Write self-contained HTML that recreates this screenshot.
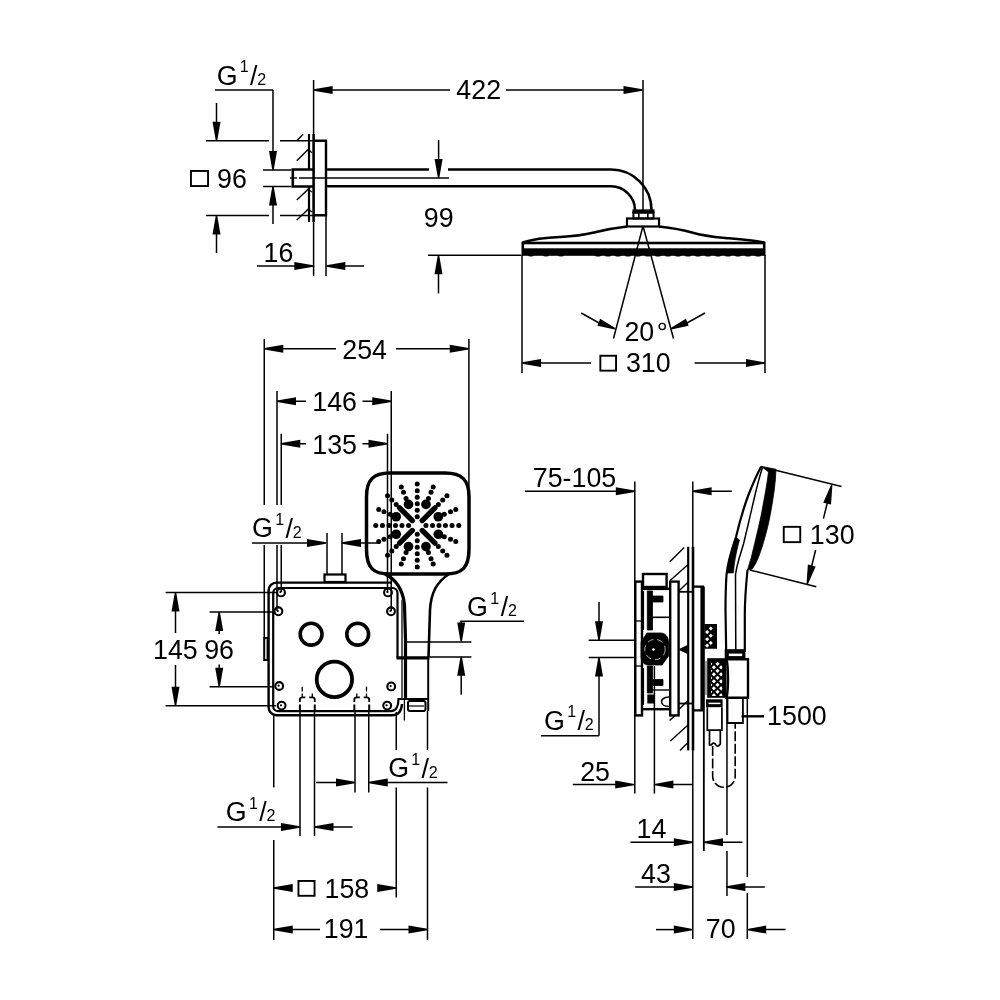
<!DOCTYPE html>
<html><head><meta charset="utf-8"><style>
html,body{margin:0;padding:0;background:#fff;width:1000px;height:1000px;overflow:hidden}
svg{display:block}
text{font-family:"Liberation Sans",sans-serif;fill:#000}
</style></head><body>
<svg width="1000" height="1000" viewBox="0 0 1000 1000">
<rect width="1000" height="1000" fill="#fff"/>
<g stroke="#000" fill="none" stroke-linecap="butt">
<line x1="309.00" y1="134.00" x2="309.00" y2="169.00" stroke-width="2.2" />
<line x1="309.00" y1="187.00" x2="309.00" y2="222.00" stroke-width="2.2" />
<line x1="313.60" y1="134.00" x2="313.60" y2="222.00" stroke-width="2.5" />
<line x1="313.60" y1="80.00" x2="313.60" y2="276.00" stroke-width="1.5" />
<line x1="296.80" y1="140.80" x2="303.10" y2="134.20" stroke-width="1.4" />
<line x1="296.80" y1="160.70" x2="308.40" y2="149.20" stroke-width="1.4" />
<line x1="296.80" y1="200.10" x2="308.40" y2="189.10" stroke-width="1.4" />
<line x1="296.80" y1="220.00" x2="308.40" y2="209.00" stroke-width="1.4" />
<line x1="308.40" y1="149.20" x2="312.00" y2="152.80" stroke-width="1.2" />
<line x1="308.40" y1="189.10" x2="312.00" y2="192.10" stroke-width="1.2" />
<line x1="308.40" y1="209.00" x2="312.00" y2="212.00" stroke-width="1.2" />
<path d="M313.60,140.80 L326.00,140.80 L326.00,215.30 L313.60,215.30" stroke-width="2.4" fill="none" />
<path d="M313.60,169.50 L292.80,169.50 L292.80,186.50 L313.60,186.50" stroke-width="2.6" fill="none" />
<line x1="290.00" y1="178.00" x2="297.00" y2="178.00" stroke-width="1.4" />
<line x1="299.00" y1="178.00" x2="449.00" y2="178.00" stroke-width="1.4" />
<line x1="206.00" y1="140.80" x2="269.00" y2="140.80" stroke-width="1.5" />
<line x1="280.00" y1="140.80" x2="313.00" y2="140.80" stroke-width="1.5" />
<line x1="206.00" y1="215.50" x2="269.00" y2="215.50" stroke-width="1.5" />
<line x1="280.00" y1="215.50" x2="313.00" y2="215.50" stroke-width="1.5" />
<line x1="216.50" y1="103.00" x2="216.50" y2="135.00" stroke-width="1.5" />
<path d="M215.80,140.80 L212.50,121.80 L220.50,121.80 L217.20,140.80 Z" fill="#000" stroke="none"/>
<line x1="216.50" y1="221.00" x2="216.50" y2="253.00" stroke-width="1.5" />
<path d="M217.20,215.50 L220.50,234.50 L212.50,234.50 L215.80,215.50 Z" fill="#000" stroke="none"/>
<rect x="190.95" y="170.95" width="17.10" height="15.10" rx="0" stroke-width="1.9" fill="none" />
<line x1="215.00" y1="90.00" x2="273.00" y2="90.00" stroke-width="1.5" />
<line x1="273.00" y1="90.00" x2="273.00" y2="165.00" stroke-width="1.5" />
<path d="M272.30,170.00 L269.00,151.00 L277.00,151.00 L273.70,170.00 Z" fill="#000" stroke="none"/>
<line x1="273.00" y1="192.00" x2="273.00" y2="224.00" stroke-width="1.5" />
<path d="M273.70,186.50 L277.00,205.50 L269.00,205.50 L272.30,186.50 Z" fill="#000" stroke="none"/>
<line x1="263.00" y1="170.00" x2="291.60" y2="170.00" stroke-width="1.5" />
<line x1="263.00" y1="186.50" x2="291.60" y2="186.50" stroke-width="1.5" />
<line x1="326.00" y1="215.00" x2="326.00" y2="276.00" stroke-width="1.5" />
<line x1="257.00" y1="266.00" x2="300.00" y2="266.00" stroke-width="1.5" />
<path d="M313.30,266.70 L294.30,270.00 L294.30,262.00 L313.30,265.30 Z" fill="#000" stroke="none"/>
<line x1="340.00" y1="266.00" x2="364.00" y2="266.00" stroke-width="1.5" />
<path d="M326.30,265.30 L345.30,262.00 L345.30,270.00 L326.30,266.70 Z" fill="#000" stroke="none"/>
<line x1="320.00" y1="90.00" x2="450.00" y2="90.00" stroke-width="1.5" />
<path d="M313.60,89.30 L332.60,86.00 L332.60,94.00 L313.60,90.70 Z" fill="#000" stroke="none"/>
<line x1="506.00" y1="90.00" x2="636.00" y2="90.00" stroke-width="1.5" />
<path d="M642.50,90.70 L623.50,94.00 L623.50,86.00 L642.50,89.30 Z" fill="#000" stroke="none"/>
<line x1="643.00" y1="80.00" x2="643.00" y2="210.00" stroke-width="1.5" />
<path d="M326,169.5 L429,169.5 M448,169.5 L611,169.5 A40.5,40.5 0 0 1 651.5,210" stroke-width="2.6" fill="none" />
<path d="M326,186.3 L611,186.3 A24,24 0 0 1 635,210.3" stroke-width="2.6" fill="none" />
<line x1="438.60" y1="140.00" x2="438.60" y2="172.00" stroke-width="1.5" />
<path d="M437.90,178.00 L434.60,159.00 L442.60,159.00 L439.30,178.00 Z" fill="#000" stroke="none"/>
<line x1="428.00" y1="255.30" x2="521.00" y2="255.30" stroke-width="1.5" />
<line x1="438.50" y1="261.00" x2="438.50" y2="293.40" stroke-width="1.5" />
<path d="M439.20,255.30 L442.50,274.30 L434.50,274.30 L437.80,255.30 Z" fill="#000" stroke="none"/>
<rect x="632.40" y="209.40" width="22.10" height="4.10" rx="0" stroke-width="0" fill="#000" stroke="none"/>
<rect x="633.40" y="212.50" width="20.10" height="6.00" rx="0" stroke-width="2.0" fill="none" />
<line x1="638.80" y1="213.00" x2="638.80" y2="218.00" stroke-width="1.6" />
<line x1="647.80" y1="213.00" x2="647.80" y2="218.00" stroke-width="1.6" />
<rect x="627.00" y="218.50" width="32.00" height="8.00" rx="0" stroke-width="2.2" fill="none" />
<path d="M627,226.5 C618,227.5 606,229.5 594,232.5 C584,235 574,236.3 560,237 C545,237.6 532,239.5 522.5,242.5" stroke-width="2.4" fill="none" />
<path d="M659,226.5 C668,227.5 680,229 692,232.5 C702,235.5 712,236.8 725,238 C740,239.2 752,240 764.5,242.5" stroke-width="2.4" fill="none" />
<rect x="522.80" y="243.00" width="241.40" height="11.50" rx="0" stroke-width="2.6" fill="none" />
<rect x="522.50" y="248.30" width="242.00" height="6.70" rx="0" stroke-width="0" fill="#000" stroke="none"/>
<ellipse cx="598" cy="255.2" rx="3.2" ry="1.4" fill="#000" stroke="none"/>
<ellipse cx="608" cy="255.2" rx="3.2" ry="1.4" fill="#000" stroke="none"/>
<ellipse cx="618" cy="255.2" rx="3.2" ry="1.4" fill="#000" stroke="none"/>
<ellipse cx="628" cy="255.2" rx="3.2" ry="1.4" fill="#000" stroke="none"/>
<ellipse cx="638" cy="255.2" rx="3.2" ry="1.4" fill="#000" stroke="none"/>
<ellipse cx="648" cy="255.2" rx="3.2" ry="1.4" fill="#000" stroke="none"/>
<ellipse cx="658" cy="255.2" rx="3.2" ry="1.4" fill="#000" stroke="none"/>
<ellipse cx="668" cy="255.2" rx="3.2" ry="1.4" fill="#000" stroke="none"/>
<ellipse cx="678" cy="255.2" rx="3.2" ry="1.4" fill="#000" stroke="none"/>
<ellipse cx="688" cy="255.2" rx="3.2" ry="1.4" fill="#000" stroke="none"/>
<ellipse cx="698" cy="255.2" rx="3.2" ry="1.4" fill="#000" stroke="none"/>
<ellipse cx="708" cy="255.2" rx="3.2" ry="1.4" fill="#000" stroke="none"/>
<ellipse cx="718" cy="255.2" rx="3.2" ry="1.4" fill="#000" stroke="none"/>
<ellipse cx="728" cy="255.2" rx="3.2" ry="1.4" fill="#000" stroke="none"/>
<ellipse cx="738" cy="255.2" rx="3.2" ry="1.4" fill="#000" stroke="none"/>
<ellipse cx="748" cy="255.2" rx="3.2" ry="1.4" fill="#000" stroke="none"/>
<ellipse cx="758" cy="255.2" rx="3.2" ry="1.4" fill="#000" stroke="none"/>
<ellipse cx="531" cy="255.2" rx="3" ry="1.2" fill="#000" stroke="none"/>
<ellipse cx="546" cy="255.2" rx="3" ry="1.2" fill="#000" stroke="none"/>
<ellipse cx="561" cy="255.2" rx="3" ry="1.2" fill="#000" stroke="none"/>
<line x1="522.00" y1="255.00" x2="522.00" y2="373.00" stroke-width="1.5" />
<line x1="765.00" y1="255.00" x2="765.00" y2="373.00" stroke-width="1.5" />
<line x1="643.00" y1="226.00" x2="613.50" y2="338.50" stroke-width="1.5" />
<line x1="643.00" y1="226.00" x2="673.50" y2="338.50" stroke-width="1.5" />
<path d="M581.25,313 Q591,318.5 600,323.5" stroke-width="1.5" fill="none" />
<path d="M614.74,329.40 L597.38,325.69 L600.13,318.82 L615.26,328.10 Z" fill="#000" stroke="none"/>
<path d="M705,313 Q695,318.5 686,323.5" stroke-width="1.5" fill="none" />
<path d="M670.74,328.10 L685.87,318.82 L688.62,325.69 L671.26,329.40 Z" fill="#000" stroke="none"/>
<circle cx="662.25" cy="326.50" r="3.10" stroke-width="1.4" fill="none"/>
<line x1="528.00" y1="363.00" x2="591.00" y2="363.00" stroke-width="1.5" />
<path d="M522.00,362.30 L541.00,359.00 L541.00,367.00 L522.00,363.70 Z" fill="#000" stroke="none"/>
<line x1="694.60" y1="363.00" x2="759.00" y2="363.00" stroke-width="1.5" />
<path d="M765.00,363.70 L746.00,367.00 L746.00,359.00 L765.00,362.30 Z" fill="#000" stroke="none"/>
<rect x="600.35" y="355.75" width="15.70" height="14.90" rx="0" stroke-width="1.9" fill="none" />
<line x1="264.25" y1="339.00" x2="264.25" y2="505.00" stroke-width="1.5" />
<line x1="264.25" y1="545.00" x2="264.25" y2="638.00" stroke-width="1.5" />
<line x1="468.90" y1="339.00" x2="468.90" y2="490.00" stroke-width="1.5" />
<line x1="270.00" y1="348.75" x2="336.00" y2="348.75" stroke-width="1.5" />
<path d="M264.25,348.05 L283.25,344.75 L283.25,352.75 L264.25,349.45 Z" fill="#000" stroke="none"/>
<line x1="396.00" y1="348.75" x2="463.00" y2="348.75" stroke-width="1.5" />
<path d="M468.75,349.45 L449.75,352.75 L449.75,344.75 L468.75,348.05 Z" fill="#000" stroke="none"/>
<line x1="277.00" y1="391.00" x2="277.00" y2="505.00" stroke-width="1.5" />
<line x1="277.00" y1="545.00" x2="277.00" y2="611.00" stroke-width="1.5" />
<line x1="391.25" y1="391.00" x2="391.25" y2="611.00" stroke-width="1.5" />
<line x1="283.00" y1="401.25" x2="306.00" y2="401.25" stroke-width="1.5" />
<path d="M277.00,400.55 L296.00,397.25 L296.00,405.25 L277.00,401.95 Z" fill="#000" stroke="none"/>
<line x1="362.50" y1="401.25" x2="385.00" y2="401.25" stroke-width="1.5" />
<path d="M391.25,401.95 L372.25,405.25 L372.25,397.25 L391.25,400.55 Z" fill="#000" stroke="none"/>
<line x1="281.25" y1="433.75" x2="281.25" y2="505.00" stroke-width="1.5" />
<line x1="281.25" y1="545.00" x2="281.25" y2="592.00" stroke-width="1.5" />
<line x1="387.50" y1="433.75" x2="387.50" y2="592.00" stroke-width="1.5" />
<line x1="287.00" y1="443.75" x2="306.00" y2="443.75" stroke-width="1.5" />
<path d="M281.25,443.05 L300.25,439.75 L300.25,447.75 L281.25,444.45 Z" fill="#000" stroke="none"/>
<line x1="362.50" y1="443.75" x2="381.00" y2="443.75" stroke-width="1.5" />
<path d="M387.50,444.45 L368.50,447.75 L368.50,439.75 L387.50,443.05 Z" fill="#000" stroke="none"/>
<line x1="252.00" y1="543.00" x2="320.00" y2="543.00" stroke-width="1.5" />
<path d="M326.00,543.70 L307.00,547.00 L307.00,539.00 L326.00,542.30 Z" fill="#000" stroke="none"/>
<line x1="348.00" y1="543.00" x2="380.00" y2="543.00" stroke-width="1.5" />
<path d="M342.00,542.30 L361.00,539.00 L361.00,547.00 L342.00,543.70 Z" fill="#000" stroke="none"/>
<line x1="327.00" y1="533.00" x2="327.00" y2="574.00" stroke-width="1.5" />
<line x1="342.00" y1="533.00" x2="342.00" y2="574.00" stroke-width="1.5" />
<rect x="324.50" y="574.50" width="21.00" height="7.50" rx="0" stroke-width="2.2" fill="none" />
<path d="M392,582.6 L276.6,582.6 A8,8 0 0 0 268.6,590.6 L268.6,707.3 A8,8 0 0 0 276.6,715.3 L392,715.3 C398,715.3 401.5,711 402,704" stroke-width="2.4" fill="none" />
<path d="M397.5,658 L397.5,593 A5,5 0 0 0 392.5,588 L278.2,588 A5,5 0 0 0 273.2,593 L273.2,706.2 A5,5 0 0 0 278.2,711.2 L391,711.2 C396,711.2 398.5,706 398.5,699 L429,699" stroke-width="2.2" fill="none" />
<rect x="264.20" y="638.00" width="3.40" height="22.00" rx="0" stroke-width="2.0" fill="none" />
<circle cx="281.00" cy="592.40" r="3.90" stroke-width="2.1" fill="none"/>
<circle cx="280.40" cy="592.10" r="1.10" stroke-width="0" fill="#000"/>
<circle cx="278.40" cy="611.30" r="3.90" stroke-width="2.1" fill="none"/>
<circle cx="277.80" cy="611.00" r="1.10" stroke-width="0" fill="#000"/>
<circle cx="388.00" cy="592.40" r="3.90" stroke-width="2.1" fill="none"/>
<circle cx="387.40" cy="592.10" r="1.10" stroke-width="0" fill="#000"/>
<circle cx="391.00" cy="611.30" r="3.90" stroke-width="2.1" fill="none"/>
<circle cx="390.40" cy="611.00" r="1.10" stroke-width="0" fill="#000"/>
<circle cx="279.20" cy="686.00" r="3.90" stroke-width="2.1" fill="none"/>
<circle cx="278.60" cy="685.70" r="1.10" stroke-width="0" fill="#000"/>
<circle cx="281.60" cy="705.60" r="3.90" stroke-width="2.1" fill="none"/>
<circle cx="281.00" cy="705.30" r="1.10" stroke-width="0" fill="#000"/>
<circle cx="391.20" cy="686.40" r="3.90" stroke-width="2.1" fill="none"/>
<circle cx="390.60" cy="686.10" r="1.10" stroke-width="0" fill="#000"/>
<circle cx="387.20" cy="705.60" r="3.90" stroke-width="2.1" fill="none"/>
<circle cx="386.60" cy="705.30" r="1.10" stroke-width="0" fill="#000"/>
<circle cx="311.10" cy="634.20" r="10.90" stroke-width="3.6" fill="none"/>
<circle cx="357.70" cy="634.20" r="10.90" stroke-width="3.6" fill="none"/>
<circle cx="334.40" cy="679.40" r="17.70" stroke-width="3.8" fill="none"/>
<line x1="299.90" y1="704.50" x2="299.90" y2="711.00" stroke-width="2.0" />
<line x1="314.75" y1="704.50" x2="314.75" y2="711.00" stroke-width="2.0" />
<line x1="354.35" y1="704.50" x2="354.35" y2="711.00" stroke-width="2.0" />
<line x1="369.20" y1="704.50" x2="369.20" y2="711.00" stroke-width="2.0" />
<path d="M299.9,702 L299.9,699.5 Q299.9,697.3 302.4,697.3 L305.4,697.3" stroke-width="1.8" fill="none" />
<path d="M314.75,702 L314.75,699.5 Q314.75,697.3 312.25,697.3 L309.25,697.3" stroke-width="1.8" fill="none" />
<path d="M354.35,702 L354.35,699.5 Q354.35,697.3 356.85,697.3 L359.85,697.3" stroke-width="1.8" fill="none" />
<path d="M369.2,702 L369.2,699.5 Q369.2,697.3 366.7,697.3 L363.7,697.3" stroke-width="1.8" fill="none" />
<line x1="302.20" y1="693.50" x2="302.20" y2="697.00" stroke-width="1.3" />
<line x1="366.50" y1="693.50" x2="366.50" y2="697.00" stroke-width="1.3" />
<line x1="312.30" y1="693.50" x2="312.30" y2="697.00" stroke-width="1.3" />
<line x1="356.80" y1="693.50" x2="356.80" y2="697.00" stroke-width="1.3" />
<line x1="302.20" y1="686.70" x2="302.20" y2="691.50" stroke-width="1.3" />
<line x1="366.50" y1="686.70" x2="366.50" y2="691.50" stroke-width="1.3" />
<line x1="273.75" y1="716.00" x2="273.75" y2="787.50" stroke-width="1.5" />
<line x1="273.75" y1="840.00" x2="273.75" y2="940.00" stroke-width="1.5" />
<line x1="300.00" y1="712.00" x2="300.00" y2="836.00" stroke-width="1.5" />
<line x1="314.50" y1="712.00" x2="314.50" y2="836.00" stroke-width="1.5" />
<line x1="355.00" y1="712.00" x2="355.00" y2="792.50" stroke-width="1.5" />
<line x1="368.75" y1="712.00" x2="368.75" y2="792.50" stroke-width="1.5" />
<line x1="396.25" y1="712.00" x2="396.25" y2="750.00" stroke-width="1.5" />
<line x1="396.25" y1="787.50" x2="396.25" y2="897.50" stroke-width="1.5" />
<line x1="427.50" y1="711.00" x2="427.50" y2="750.00" stroke-width="1.5" />
<line x1="427.50" y1="787.50" x2="427.50" y2="940.00" stroke-width="1.5" />
<line x1="316.00" y1="782.50" x2="349.00" y2="782.50" stroke-width="1.5" />
<path d="M355.00,783.20 L336.00,786.50 L336.00,778.50 L355.00,781.80 Z" fill="#000" stroke="none"/>
<line x1="375.00" y1="782.50" x2="447.50" y2="782.50" stroke-width="1.5" />
<path d="M368.75,781.80 L387.75,778.50 L387.75,786.50 L368.75,783.20 Z" fill="#000" stroke="none"/>
<line x1="217.50" y1="827.00" x2="294.00" y2="827.00" stroke-width="1.5" />
<path d="M300.00,827.70 L281.00,831.00 L281.00,823.00 L300.00,826.30 Z" fill="#000" stroke="none"/>
<line x1="320.00" y1="827.00" x2="352.50" y2="827.00" stroke-width="1.5" />
<path d="M314.50,826.30 L333.50,823.00 L333.50,831.00 L314.50,827.70 Z" fill="#000" stroke="none"/>
<path d="M273.75,887.30 L292.75,884.00 L292.75,892.00 L273.75,888.70 Z" fill="#000" stroke="none"/>
<path d="M396.25,888.70 L377.25,892.00 L377.25,884.00 L396.25,887.30 Z" fill="#000" stroke="none"/>
<rect x="298.45" y="880.95" width="16.10" height="14.85" rx="0" stroke-width="1.9" fill="none" />
<line x1="280.00" y1="929.50" x2="320.00" y2="929.50" stroke-width="1.5" />
<path d="M273.75,928.80 L292.75,925.50 L292.75,933.50 L273.75,930.20 Z" fill="#000" stroke="none"/>
<line x1="380.00" y1="929.50" x2="421.00" y2="929.50" stroke-width="1.5" />
<path d="M427.50,930.20 L408.50,933.50 L408.50,925.50 L427.50,928.80 Z" fill="#000" stroke="none"/>
<line x1="165.60" y1="592.40" x2="276.00" y2="592.40" stroke-width="1.5" />
<line x1="165.60" y1="705.70" x2="276.00" y2="705.70" stroke-width="1.5" />
<line x1="175.50" y1="598.00" x2="175.50" y2="633.00" stroke-width="1.5" />
<path d="M176.20,592.40 L179.50,611.40 L171.50,611.40 L174.80,592.40 Z" fill="#000" stroke="none"/>
<line x1="175.50" y1="665.00" x2="175.50" y2="700.00" stroke-width="1.5" />
<path d="M174.80,705.70 L171.50,686.70 L179.50,686.70 L176.20,705.70 Z" fill="#000" stroke="none"/>
<line x1="209.60" y1="612.00" x2="273.00" y2="612.00" stroke-width="1.5" />
<line x1="209.60" y1="686.80" x2="273.00" y2="686.80" stroke-width="1.5" />
<line x1="219.20" y1="618.00" x2="219.20" y2="634.00" stroke-width="1.5" />
<path d="M219.90,612.00 L223.20,631.00 L215.20,631.00 L218.50,612.00 Z" fill="#000" stroke="none"/>
<line x1="219.20" y1="664.40" x2="219.20" y2="681.00" stroke-width="1.5" />
<path d="M218.50,686.80 L215.20,667.80 L223.20,667.80 L219.90,686.80 Z" fill="#000" stroke="none"/>
<path d="M390,473 L445,473 C462,473 469,480 469,497 L469,549 C469,568 462,574 445,574 L390,574 C373,574 366.5,568 366.5,549 L366.5,497 C366.5,480 373,473 390,473 Z" stroke-width="3.5" fill="none" />
<path d="M385,574 C397,580 403,590 404.5,605 L405.5,640 L405.5,700" stroke-width="3.2" fill="none" />
<path d="M449,574 C437,582 431,592 430,610 L428.5,657" stroke-width="2.6" fill="none" />
<line x1="402.00" y1="600.00" x2="402.00" y2="699.00" stroke-width="1.6" stroke="#333"/>
<line x1="404.40" y1="699.00" x2="404.40" y2="720.50" stroke-width="1.3" />
<line x1="428.20" y1="657.00" x2="428.20" y2="711.00" stroke-width="2.0" />
<line x1="405.50" y1="642.00" x2="471.40" y2="642.00" stroke-width="1.5" />
<line x1="396.50" y1="657.80" x2="429.40" y2="657.80" stroke-width="3.2" />
<line x1="429.40" y1="657.10" x2="471.40" y2="657.10" stroke-width="1.5" />
<rect x="408.00" y="701.00" width="17.50" height="10.00" rx="2" stroke-width="2.0" fill="none" />
<line x1="409.00" y1="706.00" x2="424.00" y2="706.00" stroke-width="1.2" />
<line x1="422.20" y1="530.45" x2="434.93" y2="543.18" stroke-width="5.3" stroke-linecap="round"/>
<line x1="412.30" y1="530.45" x2="399.57" y2="543.18" stroke-width="5.3" stroke-linecap="round"/>
<line x1="412.30" y1="520.55" x2="399.57" y2="507.82" stroke-width="5.3" stroke-linecap="round"/>
<line x1="422.20" y1="520.55" x2="434.93" y2="507.82" stroke-width="5.3" stroke-linecap="round"/>
<circle cx="425.95" cy="525.50" r="2.5" fill="#000" stroke="none"/>
<circle cx="432.55" cy="525.50" r="2.5" fill="#000" stroke="none"/>
<circle cx="439.00" cy="525.50" r="2.5" fill="#000" stroke="none"/>
<circle cx="445.45" cy="525.50" r="2.5" fill="#000" stroke="none"/>
<circle cx="452.05" cy="525.50" r="2.5" fill="#000" stroke="none"/>
<circle cx="458.75" cy="525.50" r="2.5" fill="#000" stroke="none"/>
<circle cx="417.25" cy="534.20" r="2.5" fill="#000" stroke="none"/>
<circle cx="417.25" cy="540.80" r="2.5" fill="#000" stroke="none"/>
<circle cx="417.25" cy="547.25" r="2.5" fill="#000" stroke="none"/>
<circle cx="417.25" cy="553.70" r="2.5" fill="#000" stroke="none"/>
<circle cx="417.25" cy="560.30" r="2.5" fill="#000" stroke="none"/>
<circle cx="417.25" cy="567.00" r="2.5" fill="#000" stroke="none"/>
<circle cx="408.55" cy="525.50" r="2.5" fill="#000" stroke="none"/>
<circle cx="401.95" cy="525.50" r="2.5" fill="#000" stroke="none"/>
<circle cx="395.50" cy="525.50" r="2.5" fill="#000" stroke="none"/>
<circle cx="389.05" cy="525.50" r="2.5" fill="#000" stroke="none"/>
<circle cx="382.45" cy="525.50" r="2.5" fill="#000" stroke="none"/>
<circle cx="375.75" cy="525.50" r="2.5" fill="#000" stroke="none"/>
<circle cx="417.25" cy="516.80" r="2.5" fill="#000" stroke="none"/>
<circle cx="417.25" cy="510.20" r="2.5" fill="#000" stroke="none"/>
<circle cx="417.25" cy="503.75" r="2.5" fill="#000" stroke="none"/>
<circle cx="417.25" cy="497.30" r="2.5" fill="#000" stroke="none"/>
<circle cx="417.25" cy="490.70" r="2.5" fill="#000" stroke="none"/>
<circle cx="417.25" cy="484.00" r="2.5" fill="#000" stroke="none"/>
<circle cx="438.32" cy="546.57" r="2.5" fill="#000" stroke="none"/>
<circle cx="442.71" cy="550.96" r="2.5" fill="#000" stroke="none"/>
<circle cx="446.95" cy="555.20" r="2.5" fill="#000" stroke="none"/>
<circle cx="396.18" cy="546.57" r="2.5" fill="#000" stroke="none"/>
<circle cx="391.79" cy="550.96" r="2.5" fill="#000" stroke="none"/>
<circle cx="387.55" cy="555.20" r="2.5" fill="#000" stroke="none"/>
<circle cx="396.18" cy="504.43" r="2.5" fill="#000" stroke="none"/>
<circle cx="391.79" cy="500.04" r="2.5" fill="#000" stroke="none"/>
<circle cx="387.55" cy="495.80" r="2.5" fill="#000" stroke="none"/>
<circle cx="438.32" cy="504.43" r="2.5" fill="#000" stroke="none"/>
<circle cx="442.71" cy="500.04" r="2.5" fill="#000" stroke="none"/>
<circle cx="446.95" cy="495.80" r="2.5" fill="#000" stroke="none"/>
<circle cx="438.31" cy="534.23" r="4.85" fill="#000" stroke="none"/>
<circle cx="444.27" cy="536.69" r="2.5" fill="#000" stroke="none"/>
<circle cx="450.51" cy="539.28" r="2.5" fill="#000" stroke="none"/>
<circle cx="455.78" cy="541.46" r="2.5" fill="#000" stroke="none"/>
<circle cx="425.98" cy="546.56" r="4.85" fill="#000" stroke="none"/>
<circle cx="428.44" cy="552.52" r="2.5" fill="#000" stroke="none"/>
<circle cx="431.03" cy="558.76" r="2.5" fill="#000" stroke="none"/>
<circle cx="433.21" cy="564.03" r="2.5" fill="#000" stroke="none"/>
<circle cx="408.52" cy="546.56" r="4.85" fill="#000" stroke="none"/>
<circle cx="406.06" cy="552.52" r="2.5" fill="#000" stroke="none"/>
<circle cx="403.47" cy="558.76" r="2.5" fill="#000" stroke="none"/>
<circle cx="401.29" cy="564.03" r="2.5" fill="#000" stroke="none"/>
<circle cx="396.19" cy="534.23" r="4.85" fill="#000" stroke="none"/>
<circle cx="390.23" cy="536.69" r="2.5" fill="#000" stroke="none"/>
<circle cx="383.99" cy="539.28" r="2.5" fill="#000" stroke="none"/>
<circle cx="378.72" cy="541.46" r="2.5" fill="#000" stroke="none"/>
<circle cx="396.19" cy="516.77" r="4.85" fill="#000" stroke="none"/>
<circle cx="390.23" cy="514.31" r="2.5" fill="#000" stroke="none"/>
<circle cx="383.99" cy="511.72" r="2.5" fill="#000" stroke="none"/>
<circle cx="378.72" cy="509.54" r="2.5" fill="#000" stroke="none"/>
<circle cx="408.52" cy="504.44" r="4.85" fill="#000" stroke="none"/>
<circle cx="406.06" cy="498.48" r="2.5" fill="#000" stroke="none"/>
<circle cx="403.47" cy="492.24" r="2.5" fill="#000" stroke="none"/>
<circle cx="401.29" cy="486.97" r="2.5" fill="#000" stroke="none"/>
<circle cx="425.98" cy="504.44" r="4.85" fill="#000" stroke="none"/>
<circle cx="428.44" cy="498.48" r="2.5" fill="#000" stroke="none"/>
<circle cx="431.03" cy="492.24" r="2.5" fill="#000" stroke="none"/>
<circle cx="433.21" cy="486.97" r="2.5" fill="#000" stroke="none"/>
<circle cx="438.31" cy="516.77" r="4.85" fill="#000" stroke="none"/>
<circle cx="444.27" cy="514.31" r="2.5" fill="#000" stroke="none"/>
<circle cx="450.51" cy="511.72" r="2.5" fill="#000" stroke="none"/>
<circle cx="455.78" cy="509.54" r="2.5" fill="#000" stroke="none"/>
<line x1="460.20" y1="621.30" x2="523.90" y2="621.30" stroke-width="1.5" />
<line x1="461.20" y1="621.30" x2="461.20" y2="630.00" stroke-width="1.5" />
<path d="M460.50,641.60 L457.20,622.60 L465.20,622.60 L461.90,641.60 Z" fill="#000" stroke="none"/>
<line x1="461.20" y1="662.00" x2="461.20" y2="694.80" stroke-width="1.5" />
<path d="M461.90,656.70 L465.20,675.70 L457.20,675.70 L460.50,656.70 Z" fill="#000" stroke="none"/>
<line x1="634.80" y1="481.50" x2="634.80" y2="793.60" stroke-width="1.5" />
<line x1="692.80" y1="481.50" x2="692.80" y2="939.00" stroke-width="1.5" />
<line x1="525.00" y1="491.30" x2="629.00" y2="491.30" stroke-width="1.5" />
<path d="M634.80,492.00 L615.80,495.30 L615.80,487.30 L634.80,490.60 Z" fill="#000" stroke="none"/>
<line x1="698.00" y1="491.30" x2="731.75" y2="491.30" stroke-width="1.5" />
<path d="M692.60,490.60 L711.60,487.30 L711.60,495.30 L692.60,492.00 Z" fill="#000" stroke="none"/>
<rect x="635.30" y="581.60" width="6.70" height="133.80" rx="0" stroke-width="2.4" fill="none" />
<line x1="635.30" y1="621.00" x2="642.00" y2="621.00" stroke-width="1.3" />
<line x1="635.30" y1="666.00" x2="642.00" y2="666.00" stroke-width="1.3" />
<rect x="643.00" y="574.00" width="23.60" height="13.00" rx="0" stroke-width="2.4" fill="none" />
<line x1="642.00" y1="588.80" x2="670.00" y2="588.80" stroke-width="2.6" />
<line x1="643.50" y1="591.00" x2="643.50" y2="630.00" stroke-width="1.2" />
<line x1="643.50" y1="668.00" x2="643.50" y2="705.00" stroke-width="1.2" />
<path d="M647.3,591 L652.5,591 L652.5,596 L663,596 L663,602 L652.5,602 L652.5,630 L647.3,630 Z" stroke-width="0.8" fill="#000" />
<line x1="652.50" y1="617.30" x2="670.00" y2="617.30" stroke-width="1.6" />
<path d="M641,642 L647,633 L661,633 C665,633 668.5,637 668.5,642 L668.5,656 L662,665 L648,665 C644,665 641,661 641,657 Z" stroke-width="0.8" fill="#000" />
<circle cx="653.50" cy="649.50" r="1.30" stroke-width="0" fill="#fff"/>
<circle cx="655" cy="649.5" r="10.2" stroke="#fff" stroke-width="0.7" fill="none" stroke-dasharray="6,4"/>
<path d="M647.3,666 L652.5,666 L652.5,679.5 L663,679.5 L663,685.5 L652.5,685.5 L652.5,693 L647.3,693 Z" stroke-width="0.8" fill="#000" />
<line x1="652.50" y1="690.00" x2="670.00" y2="690.00" stroke-width="1.4" />
<rect x="647.30" y="694.50" width="6.70" height="9.00" rx="0" stroke-width="0" fill="#000" stroke="none"/>
<path d="M669,697 C664,697 661.5,699.5 661.5,701.5 C661.5,704 664,706.5 669,706.5" stroke-width="1.6" fill="none" />
<line x1="642.00" y1="709.20" x2="670.00" y2="709.20" stroke-width="2.4" />
<rect x="670.20" y="581.60" width="8.40" height="133.80" rx="0" stroke-width="2.4" fill="none" />
<line x1="678.60" y1="591.80" x2="692.00" y2="591.80" stroke-width="1.8" />
<line x1="678.60" y1="703.50" x2="692.00" y2="703.50" stroke-width="1.8" />
<line x1="688.20" y1="546.80" x2="688.20" y2="750.40" stroke-width="2.2" />
<line x1="693.00" y1="546.80" x2="693.00" y2="750.40" stroke-width="2.6" />
<line x1="669.80" y1="561.80" x2="684.20" y2="547.40" stroke-width="1.4" />
<line x1="670.20" y1="580.40" x2="687.80" y2="564.80" stroke-width="1.4" />
<line x1="678.80" y1="591.00" x2="688.00" y2="582.20" stroke-width="1.4" />
<line x1="678.80" y1="709.50" x2="688.00" y2="700.50" stroke-width="1.4" />
<line x1="669.60" y1="720.40" x2="675.00" y2="715.60" stroke-width="1.4" />
<line x1="670.40" y1="741.00" x2="688.00" y2="725.00" stroke-width="1.4" />
<line x1="680.00" y1="750.40" x2="688.00" y2="742.40" stroke-width="1.4" />
<path d="M679.50,648.80 L687.50,645.00 L687.50,654.00 L679.50,650.20 Z" fill="#000" stroke="none"/>
<path d="M693.00,586.60 L703.00,586.60 L703.00,710.40 L693.00,710.40" stroke-width="2.2" fill="none" />
<line x1="702.60" y1="586.60" x2="702.60" y2="710.40" stroke-width="4.4" />
<rect x="704.50" y="624.00" width="12.50" height="24.75" rx="0" stroke-width="0" fill="#000" stroke="none" rx="2"/>
<path d="M710.75,626.45 L712.80,628.50 L710.75,630.55 L708.70,628.50 Z M707.15,630.05 L709.20,632.10 L707.15,634.15 L705.10,632.10 Z M710.75,633.65 L712.80,635.70 L710.75,637.75 L708.70,635.70 Z M707.15,637.25 L709.20,639.30 L707.15,641.35 L705.10,639.30 Z M710.75,640.85 L712.80,642.90 L710.75,644.95 L708.70,642.90 Z M707.15,643.55 L709.20,645.60 L707.15,647.65 L705.10,645.60 Z" fill="#fff" stroke="none"/>
<rect x="707.20" y="658.20" width="19.30" height="39.60" rx="0" stroke-width="0" fill="#000" stroke="none" rx="2"/>
<line x1="706.00" y1="661.00" x2="706.00" y2="695.00" stroke-width="1.6" stroke="#888"/>
<clipPath id="kn"><rect x="711" y="661" width="11.3" height="35"/></clipPath>
<path d="M710.30,661.70 L712.40,663.80 L710.30,665.90 L708.20,663.80 Z M717.50,661.70 L719.60,663.80 L717.50,665.90 L715.40,663.80 Z M713.90,665.20 L716.00,667.30 L713.90,669.40 L711.80,667.30 Z M721.10,665.20 L723.20,667.30 L721.10,669.40 L719.00,667.30 Z M710.30,668.70 L712.40,670.80 L710.30,672.90 L708.20,670.80 Z M717.50,668.70 L719.60,670.80 L717.50,672.90 L715.40,670.80 Z M713.90,672.20 L716.00,674.30 L713.90,676.40 L711.80,674.30 Z M721.10,672.20 L723.20,674.30 L721.10,676.40 L719.00,674.30 Z M710.30,675.70 L712.40,677.80 L710.30,679.90 L708.20,677.80 Z M717.50,675.70 L719.60,677.80 L717.50,679.90 L715.40,677.80 Z M713.90,679.20 L716.00,681.30 L713.90,683.40 L711.80,681.30 Z M721.10,679.20 L723.20,681.30 L721.10,683.40 L719.00,681.30 Z M710.30,682.70 L712.40,684.80 L710.30,686.90 L708.20,684.80 Z M717.50,682.70 L719.60,684.80 L717.50,686.90 L715.40,684.80 Z M713.90,686.20 L716.00,688.30 L713.90,690.40 L711.80,688.30 Z M721.10,686.20 L723.20,688.30 L721.10,690.40 L719.00,688.30 Z M710.30,689.70 L712.40,691.80 L710.30,693.90 L708.20,691.80 Z M717.50,689.70 L719.60,691.80 L717.50,693.90 L715.40,691.80 Z M713.90,693.20 L716.00,695.30 L713.90,697.40 L711.80,695.30 Z M721.10,693.20 L723.20,695.30 L721.10,697.40 L719.00,695.30 Z M710.30,696.70 L712.40,698.80 L710.30,700.90 L708.20,698.80 Z M717.50,696.70 L719.60,698.80 L717.50,700.90 L715.40,698.80 Z" fill="#fff" stroke="none" clip-path="url(#kn)"/>
<path d="M726.5,659.2 L748,659.2 L748,697.8 L726.5,697.8 C728.5,690 728.5,667 726.5,659.2 Z" stroke-width="2.4" fill="none" />
<rect x="706.00" y="699.30" width="16.60" height="7.90" rx="0" stroke-width="0" fill="#000" stroke="none" rx="1"/>
<line x1="708.50" y1="703.40" x2="720.50" y2="703.40" stroke-width="1.5" stroke="#fff"/>
<path d="M707.30,707.20 L707.30,730.20 L721.90,730.20 L721.90,707.20" stroke-width="1.7" fill="none" />
<path d="M709.5,730.2 L709.5,745 L711.5,745 C712.5,742.5 714.5,742.5 716,745 C717.5,747 719,746 720.3,744 L720.3,730.2" stroke-width="1.7" fill="none" />
<path d="M712.65,746 L712.65,776 A11.27,11.27 0 0 0 735.2,776 L735.2,723" stroke-width="1.6" fill="none" stroke-dasharray="10,2.5"/>
<path d="M727.50,697.70 L727.50,723.00 L742.90,723.00 L742.90,697.70" stroke-width="1.8" fill="none" />
<line x1="741.50" y1="716.30" x2="764.00" y2="716.30" stroke-width="2.4" />
<line x1="703.85" y1="710.40" x2="703.85" y2="851.00" stroke-width="1.8" />
<line x1="726.95" y1="697.70" x2="726.95" y2="835.00" stroke-width="1.5" />
<line x1="726.95" y1="851.00" x2="726.95" y2="896.00" stroke-width="1.5" />
<line x1="747.30" y1="697.70" x2="747.30" y2="877.00" stroke-width="1.5" />
<line x1="747.30" y1="893.00" x2="747.30" y2="939.00" stroke-width="1.5" />
<path d="M761.2,466.5 C756,476 752,486 748.4,495 C744,507 740,520 736,537 C731,552 727.6,562 726.5,575 C725.5,590 725.5,600 725.5,610 L726.2,652" stroke-width="2.2" fill="none" />
<path d="M762.5,467.5 C759,478 757,487 755,495 C751,512 747,530 743.5,544 C740,556 736.5,565 735.5,575 L735.8,652" stroke-width="1.5" fill="none" />
<path d="M747.5,570 C746,585 744.8,600 744.8,615 L744.8,652" stroke-width="2.2" fill="none" />
<path d="M761.2,466.3 L776,469.3 C775.5,485 773,500 770,516 C767,532 762,548 758.2,558 C756,563 754,567 752,569 L747.5,570 C749,565 750,561 751.2,558 C754,546 758,530 761,516 C764,500 767,485 768.5,472 Z" stroke-width="0.8" fill="#000" />
<path d="M736,537 C731,550 728.5,560 727.6,568 L727.8,573 L733.5,573 C734,564 736,553 739.5,540 Z" stroke-width="0.6" fill="#000" />
<rect x="724.70" y="649.20" width="20.70" height="9.90" rx="0" stroke-width="0" fill="#000" stroke="none"/>
<rect x="728.80" y="653.60" width="13.40" height="2.50" rx="0" stroke-width="0" fill="#fff" stroke="none"/>
<line x1="773.60" y1="469.80" x2="841.50" y2="486.60" stroke-width="1.5" />
<line x1="749.80" y1="570.00" x2="816.30" y2="586.75" stroke-width="1.5" />
<line x1="828.09" y1="499.76" x2="823.40" y2="518.69" stroke-width="1.5" />
<line x1="810.81" y1="569.44" x2="815.62" y2="550.03" stroke-width="1.5" />
<path d="M832.38,485.37 L831.01,504.60 L823.24,502.68 L831.02,485.03 Z" fill="#000" stroke="none"/>
<path d="M806.52,583.83 L807.89,564.60 L815.66,566.52 L807.88,584.17 Z" fill="#000" stroke="none"/>
<rect x="783.75" y="526.85" width="16.50" height="15.30" rx="0" stroke-width="1.9" fill="none" />
<line x1="588.70" y1="640.20" x2="634.60" y2="640.20" stroke-width="1.5" />
<line x1="588.70" y1="657.50" x2="634.60" y2="657.50" stroke-width="1.5" />
<line x1="599.00" y1="601.90" x2="599.00" y2="635.00" stroke-width="1.5" />
<path d="M598.30,640.20 L595.00,621.20 L603.00,621.20 L599.70,640.20 Z" fill="#000" stroke="none"/>
<line x1="599.00" y1="663.00" x2="599.00" y2="735.70" stroke-width="1.5" />
<path d="M599.70,657.50 L603.00,676.50 L595.00,676.50 L598.30,657.50 Z" fill="#000" stroke="none"/>
<line x1="541.00" y1="735.70" x2="599.00" y2="735.70" stroke-width="1.5" />
<line x1="654.40" y1="666.00" x2="654.40" y2="793.60" stroke-width="1.5" />
<line x1="572.80" y1="784.60" x2="628.00" y2="784.60" stroke-width="1.5" />
<path d="M634.20,785.30 L615.20,788.60 L615.20,780.60 L634.20,783.90 Z" fill="#000" stroke="none"/>
<line x1="660.00" y1="784.60" x2="692.80" y2="784.60" stroke-width="1.5" />
<path d="M654.40,783.90 L673.40,780.60 L673.40,788.60 L654.40,785.30 Z" fill="#000" stroke="none"/>
<line x1="630.40" y1="842.20" x2="687.00" y2="842.20" stroke-width="1.5" />
<path d="M692.80,842.90 L673.80,846.20 L673.80,838.20 L692.80,841.50 Z" fill="#000" stroke="none"/>
<line x1="710.00" y1="842.20" x2="742.40" y2="842.20" stroke-width="1.5" />
<path d="M704.00,841.50 L723.00,838.20 L723.00,846.20 L704.00,842.90 Z" fill="#000" stroke="none"/>
<line x1="635.20" y1="887.00" x2="687.00" y2="887.00" stroke-width="1.5" />
<path d="M692.80,887.70 L673.80,891.00 L673.80,883.00 L692.80,886.30 Z" fill="#000" stroke="none"/>
<line x1="732.00" y1="887.00" x2="764.80" y2="887.00" stroke-width="1.5" />
<path d="M726.40,886.30 L745.40,883.00 L745.40,891.00 L726.40,887.70 Z" fill="#000" stroke="none"/>
<line x1="656.00" y1="929.60" x2="687.00" y2="929.60" stroke-width="1.5" />
<path d="M692.80,930.30 L673.80,933.60 L673.80,925.60 L692.80,928.90 Z" fill="#000" stroke="none"/>
<line x1="753.00" y1="929.60" x2="785.60" y2="929.60" stroke-width="1.5" />
<path d="M747.20,928.90 L766.20,925.60 L766.20,933.60 L747.20,930.30 Z" fill="#000" stroke="none"/>
</g>
<g stroke="none" style="will-change:transform">
<text x="217.00" y="188.00" font-size="26.8">96</text>
<text x="216.75" y="84.55" font-size="26.8">G</text>
<text x="239.75" y="72.47" font-size="16">1</text>
<text x="250.07" y="85.05" font-size="26.8">/</text>
<text x="257.30" y="84.92" font-size="16">2</text>
<text x="263.50" y="262.00" font-size="26.8">16</text>
<text x="456.35" y="98.90" font-size="26.8">422</text>
<text x="423.85" y="226.95" font-size="26.8">99</text>
<text x="624.38" y="340.50" font-size="26.8">20</text>
<text x="625.90" y="372.00" font-size="26.8">310</text>
<text x="342.25" y="359.00" font-size="26.8">254</text>
<text x="312.25" y="411.25" font-size="26.8">146</text>
<text x="312.25" y="453.50" font-size="26.8">135</text>
<text x="251.95" y="537.05" font-size="26.8">G</text>
<text x="275.15" y="524.83" font-size="16">1</text>
<text x="285.47" y="537.55" font-size="26.8">/</text>
<text x="292.70" y="537.58" font-size="16">2</text>
<text x="388.20" y="777.35" font-size="26.8">G</text>
<text x="411.20" y="765.27" font-size="16">1</text>
<text x="421.52" y="777.85" font-size="26.8">/</text>
<text x="428.75" y="777.72" font-size="16">2</text>
<text x="225.82" y="820.60" font-size="26.8">G</text>
<text x="249.00" y="808.52" font-size="16">1</text>
<text x="259.32" y="821.10" font-size="26.8">/</text>
<text x="266.55" y="820.97" font-size="16">2</text>
<text x="324.50" y="897.50" font-size="26.8">158</text>
<text x="323.75" y="938.25" font-size="26.8">191</text>
<text x="153.00" y="659.10" font-size="26.8">145</text>
<text x="204.20" y="659.10" font-size="26.8">96</text>
<text x="467.00" y="615.75" font-size="26.8">G</text>
<text x="490.35" y="604.02" font-size="16">1</text>
<text x="500.68" y="616.25" font-size="26.8">/</text>
<text x="507.90" y="615.78" font-size="16">2</text>
<text x="532.75" y="487.38" font-size="26.8">75-105</text>
<text x="767.10" y="724.70" font-size="26.8">1500</text>
<text x="809.85" y="543.95" font-size="26.8">130</text>
<text x="544.08" y="729.62" font-size="26.8">G</text>
<text x="567.25" y="717.38" font-size="16">1</text>
<text x="577.58" y="730.12" font-size="26.8">/</text>
<text x="584.80" y="730.17" font-size="16">2</text>
<text x="580.20" y="780.70" font-size="26.8">25</text>
<text x="636.50" y="838.30" font-size="26.8">14</text>
<text x="641.00" y="883.10" font-size="26.8">43</text>
<text x="705.80" y="938.30" font-size="26.8">70</text>
</g>
</svg>
</body></html>
